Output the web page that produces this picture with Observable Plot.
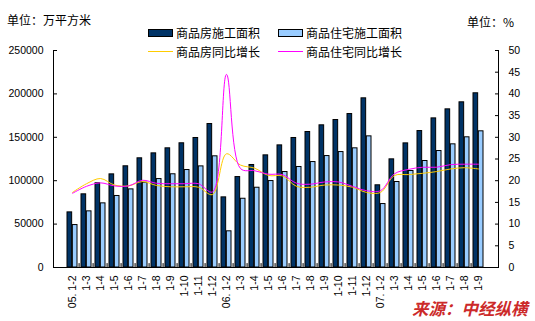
<!DOCTYPE html>
<html><head><meta charset="utf-8">
<script src="https://cdn.jsdelivr.net/npm/d3@7"></script>
<script src="https://cdn.jsdelivr.net/npm/@observablehq/plot@0.6"></script>
<style>
body{margin:0;background:#fff;}
#wrap{position:relative;width:535px;height:321px;overflow:hidden;font-family:"Noto Sans CJK SC","Liberation Sans",sans-serif;}
#chart{position:absolute;left:0;top:0;}
.t{position:absolute;font-size:12px;line-height:14px;white-space:nowrap;color:#000;}
.sw{position:absolute;box-sizing:border-box;}
#src{position:absolute;left:412px;top:297px;font-size:16.5px;line-height:22px;font-weight:bold;font-style:italic;color:#cc2a2a;white-space:nowrap;}
</style></head>
<body>
<div id="wrap">
  <div id="chart"></div>
  <div class="t" style="left:7px;top:13px;">单位：万平方米</div>
  <div class="t" style="left:467px;top:15px;">单位：%</div>
  <div class="sw" style="left:148px;top:29px;width:25px;height:8px;background:#003366;border:1px solid #000;"></div>
  <div class="t" style="left:176px;top:26px;">商品房施工面积</div>
  <div class="sw" style="left:278px;top:29px;width:25px;height:8px;background:#99CCFF;border:1px solid #000;"></div>
  <div class="t" style="left:306px;top:26px;">商品住宅施工面积</div>
  <div class="sw" style="left:148px;top:51px;width:25px;height:1px;background:#FFCC00;"></div>
  <div class="t" style="left:176px;top:45px;">商品房同比增长</div>
  <div class="sw" style="left:278px;top:51px;width:25px;height:1px;background:#FF00FF;"></div>
  <div class="t" style="left:306px;top:45px;">商品住宅同比增长</div>
  <div id="src">来源：中经纵横</div>
</div>
<script>
const periods = ["05.1-2","05.1-3","05.1-4","05.1-5","05.1-6","05.1-7","05.1-8","05.1-9","05.1-10","05.1-11","05.1-12",
  "06.1-2","06.1-3","06.1-4","06.1-5","06.1-6","06.1-7","06.1-8","06.1-9","06.1-10","06.1-11","06.1-12",
  "07.1-2","07.1-3","07.1-4","07.1-5","07.1-6","07.1-7","07.1-8","07.1-9"];
const tickLabels = ["05. 1-2","1-3","1-4","1-5","1-6","1-7","1-8","1-9","1-10","1-11","1-12",
  "06. 1-2","1-3","1-4","1-5","1-6","1-7","1-8","1-9","1-10","1-11","1-12",
  "07. 1-2","1-3","1-4","1-5","1-6","1-7","1-8","1-9"];
// 商品房施工面积 (万平方米)
const commercialArea = [63500,84300,97000,107300,116600,125800,131500,137300,143100,149200,165300,
  80800,104200,118100,129200,140700,149200,156100,163800,169900,176800,194900,
  94700,124600,143000,157200,171800,182200,190300,200700];
// 商品住宅施工面积 (万平方米)
const residentialArea = [48900,64700,73900,82400,90000,97700,101900,107400,112300,116500,128100,
  41700,79200,91900,99600,110000,115800,121500,128400,133000,137300,151100,
  73100,98500,111200,122700,134200,141900,150000,156900];
// 商品房同比增长 (%)
const growthCommercial = [17.3,19.3,20.5,19.0,18.8,19.8,18.9,18.6,18.6,18.5,16.8,
  26.2,23.6,22.9,21.2,21.1,18.7,18.5,19.0,19.0,18.5,17.3,
  17.3,21.2,21.4,21.7,22.1,22.7,23.0,22.7];
// 商品住宅同比增长 (%)
const growthResidential = [17.1,18.7,19.5,18.8,18.8,20.1,19.4,19.3,19.3,19.3,17.4,
  44.5,22.8,22.3,21.5,21.4,19.4,19.2,19.7,19.7,18.7,17.7,
  17.7,21.6,22.6,23.1,23.1,23.7,23.8,23.8];
const leftTicks = [0,50000,100000,150000,200000,250000];
const rightTicks = [0,5,10,15,20,25,30,35,40,45,50];

const K = 5000; // right-axis % mapped onto left scale
const W = 535, H = 321, mL = 53, mR = 37, mT = 50, mB = 54;
const step = (W - mL - mR) / periods.length;
const half = step * 0.72 / 2;

const rows = periods.map((p, i) => ({p, label: tickLabels[i], com: commercialArea[i], res: residentialArea[i], g1: growthCommercial[i], g2: growthResidential[i]}));

const chart = Plot.plot({
  width: W, height: H, marginTop: mT, marginBottom: mB, marginLeft: mL, marginRight: mR,
  style: {fontFamily: "'Liberation Sans', Arial, sans-serif", fontSize: "10.5px", background: "transparent", color: "#000"},
  x: {domain: periods, paddingInner: 0.28, paddingOuter: 0.14, axis: null, label: null},
  y: {domain: [0, 250000], axis: null, label: null},
  marks: [
    Plot.barY(rows, {x: "p", y: "com", fill: "#003366", stroke: "#000", strokeWidth: 1, insetRight: half}),
    Plot.barY(rows, {x: "p", y: "res", fill: "#99CCFF", stroke: "#000", strokeWidth: 1, insetLeft: half}),
    Plot.line(rows, {x: "p", y: d => d.g1 * K, stroke: "#FFCC00", strokeWidth: 1, curve: "catmull-rom"}),
    Plot.line(rows, {x: "p", y: d => d.g2 * K, stroke: "#FF00FF", strokeWidth: 1, curve: "catmull-rom"}),
    Plot.ruleX(rows.slice(1), {x: "p", dx: -step / 2, y1: 0, y2: 4500, stroke: "#000"}),
    Plot.ruleY([0], {stroke: "#000"}),
    Plot.frame({anchor: "left", stroke: "#000"}),
    Plot.frame({anchor: "right", stroke: "#000"}),
    Plot.axisY(leftTicks, {anchor: "left", label: null, tickSize: -4, tickPadding: 14, tickFormat: d => String(d)}),
    Plot.axisY(rightTicks.map(v => v * K), {anchor: "right", label: null, tickSize: -4, tickPadding: 14, tickFormat: d => String(d / K)}),
    Plot.axisX({anchor: "bottom", label: null, tickSize: 0, tickPadding: 8, tickRotate: -90, tickFormat: d => tickLabels[periods.indexOf(d)]})
  ]
});
document.getElementById("chart").appendChild(chart);
</script>
</body></html>
